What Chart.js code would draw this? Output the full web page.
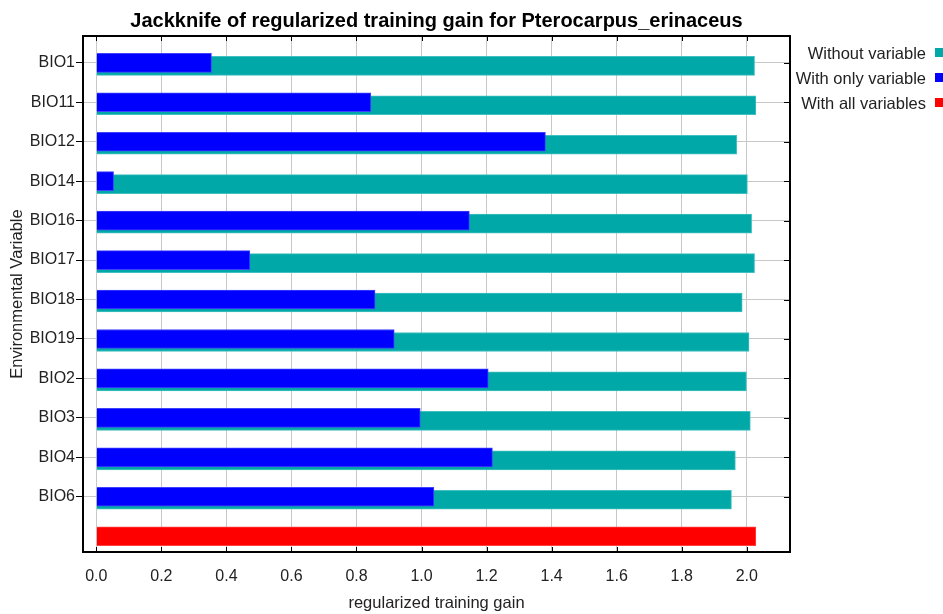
<!DOCTYPE html>
<html>
<head>
<meta charset="utf-8">
<script src="https://cdn.jsdelivr.net/npm/chart.js@4.4.1/dist/chart.umd.min.js"></script>
<style>
  html, body { margin: 0; padding: 0; background: #fff; }
  #wrap { width: 943px; height: 614px; }
</style>
</head>
<body>
<div id="wrap"><canvas id="jackknifeChart"></canvas></div>
<script>
const categories = ['BIO1', 'BIO11', 'BIO12', 'BIO14', 'BIO16', 'BIO17', 'BIO18', 'BIO19', 'BIO2', 'BIO3', 'BIO4', 'BIO6'];
const withoutVariable = [2.024, 2.028, 1.969, 2.002, 2.015, 2.024, 1.986, 2.007, 1.999, 2.011, 1.965, 1.953];
const withOnlyVariable = [0.354, 0.844, 1.381, 0.053, 1.147, 0.472, 0.857, 0.916, 1.205, 0.996, 1.218, 1.038];
const withAllVariables = 2.028;
const xTicks = [0.0, 0.2, 0.4, 0.6, 0.8, 1.0, 1.2, 1.4, 1.6, 1.8, 2.0];
const legendItems = [
  { label: 'Without variable', color: '#00a8a8' },
  { label: 'With only variable', color: '#0000ff' },
  { label: 'With all variables', color: '#ff0000' }
];

const FONT = "'Liberation Sans', Arial, sans-serif";
const allRow = categories.length; // the last row, no label

// frame, inner tick marks and the legend on the right
const framePlugin = {
  id: 'frame',
  afterDraw(chart) {
    const ctx = chart.ctx;
    const a = chart.chartArea;
    ctx.save();
    ctx.strokeStyle = '#000';
    ctx.lineWidth = 1;
    chart.scales.x.ticks.forEach(t => {
      const px = Math.round(chart.scales.x.getPixelForValue(t.value)) + 0.5;
      ctx.beginPath();
      ctx.moveTo(px, a.top); ctx.lineTo(px, a.top + 5);
      ctx.moveTo(px, a.bottom); ctx.lineTo(px, a.bottom - 5);
      ctx.stroke();
    });
    chart.scales.y.ticks.forEach(t => {
      const py = Math.round(chart.scales.y.getPixelForValue(t.value)) + 0.5;
      ctx.beginPath();
      ctx.moveTo(a.right, py); ctx.lineTo(a.right - 6, py);
      ctx.stroke();
    });
    ctx.lineWidth = 2;
    ctx.strokeRect(a.left, a.top, a.right - a.left, a.bottom - a.top);

    ctx.font = '16.5px ' + FONT;
    ctx.textAlign = 'right';
    ctx.textBaseline = 'middle';
    legendItems.forEach((it, i) => {
      const y = 54 + i * 25;
      ctx.fillStyle = '#222';
      ctx.fillText(it.label, 926, y);
      ctx.fillStyle = it.color;
      ctx.fillRect(935, y - 6, 9, 9);
    });
    ctx.restore();
  }
};

const yMin = -0.68, yMax = 12.40, tealShift = 0.076;

new Chart(document.getElementById('jackknifeChart'), {
  type: 'bar',
  data: {
    datasets: [
      {
        label: 'With only variable',
        data: withOnlyVariable.map((v, i) => ({ x: v, y: i })),
        backgroundColor: '#0000ff',
        borderColor: '#4040ff',
        borderWidth: 1,
        yAxisID: 'y',
        order: 1
      },
      {
        label: 'Without variable',
        data: withoutVariable.map((v, i) => ({ x: v, y: i })),
        backgroundColor: '#00a8a8',
        borderColor: '#40c0c0',
        borderWidth: 1,
        yAxisID: 'yTeal',
        order: 2
      },
      {
        label: 'With all variables',
        data: [{ x: withAllVariables, y: allRow }],
        backgroundColor: '#ff0000',
        borderColor: '#ff4040',
        borderWidth: 1,
        yAxisID: 'y',
        order: 3
      }
    ]
  },
  options: {
    indexAxis: 'y',
    responsive: true,
    maintainAspectRatio: false,
    animation: false,
    layout: { padding: { left: 0, right: 153, top: 0, bottom: 0 } },
    datasets: { bar: { grouped: false, barThickness: 19 } },
    plugins: {
      legend: { display: false },
      tooltip: { enabled: false },
      title: {
        display: true,
        fullSize: false,
        text: 'Jackknife of regularized training gain for Pterocarpus_erinaceus',
        color: '#000',
        font: { family: FONT, size: 20, weight: 'bold', lineHeight: 1.2 },
        padding: { top: 9.5, bottom: 2.5 }
      }
    },
    scales: {
      x: {
        type: 'linear',
        min: -0.041,
        max: 2.133,
        offset: false,
        afterBuildTicks: s => { s.ticks = xTicks.map(v => ({ value: v })); },
        afterFit: s => { s.height = 62; },
        border: { display: false },
        grid: { color: '#c8c8c8', drawTicks: false, offset: false },
        ticks: {
          color: '#222',
          padding: 15,
          font: { family: FONT, size: 16 },
          callback: v => v.toFixed(1)
        },
        title: {
          display: true,
          text: 'regularized training gain',
          color: '#222',
          font: { family: FONT, size: 16.5 },
          padding: { top: 0, bottom: 1 }
        }
      },
      y: {
        type: 'linear',
        reverse: true,
        min: yMin,
        max: yMax,
        offset: false,
        afterBuildTicks: s => { s.ticks = categories.map((c, i) => ({ value: i })); },
        afterFit: s => { s.width = 83; },
        border: { display: false },
        grid: { color: '#c8c8c8', tickColor: '#000', tickLength: 7, offset: false },
        ticks: {
          color: '#222',
          padding: 1,
          font: { family: FONT, size: 16 },
          callback: v => categories[v]
        },
        title: {
          display: true,
          text: 'Environmental Variable',
          color: '#222',
          font: { family: FONT, size: 16.5 },
          padding: { top: 8, bottom: 0 }
        }
      },
      yTeal: {
        type: 'linear',
        display: false,
        reverse: true,
        min: yMin - tealShift,
        max: yMax - tealShift,
        offset: false
      }
    }
  },
  plugins: [framePlugin]
});
</script>
</body>
</html>
